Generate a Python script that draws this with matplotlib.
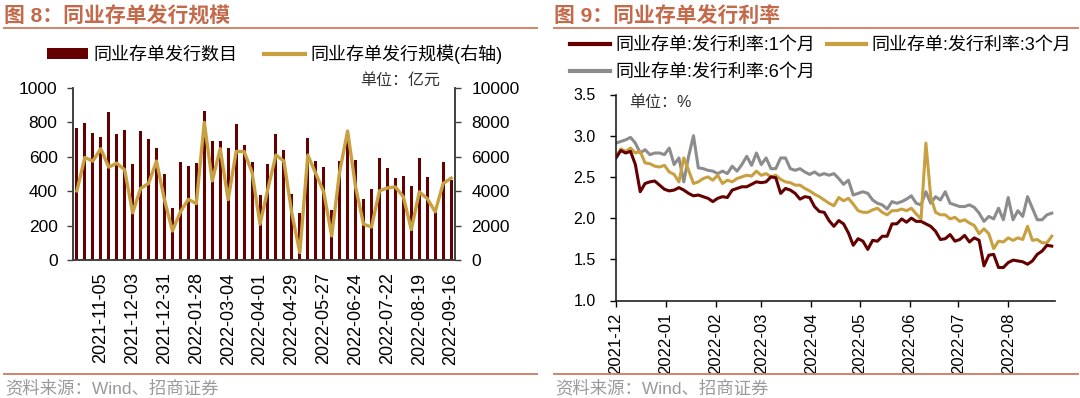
import matplotlib
matplotlib.use("Agg")
import matplotlib.pyplot as plt
import matplotlib.dates as mdates
import matplotlib.ticker as mticker
import pandas as pd
from matplotlib.patches import Patch
from matplotlib.lines import Line2D

plt.rcParams['font.family'] = ['Liberation Sans', 'Noto Sans CJK SC']
plt.rcParams['axes.unicode_minus'] = False

DARK_RED = '#650000'
GOLD = '#C9A040'
GREY = '#8C8C8C'
TITLE_C = '#C4694A'
RULE_C = '#D08468'

# 图8 周度数据 (春节周 2022-02-04 无数据)
week_dates = [d for d in pd.date_range('2021-10-15', '2022-09-16', freq='7D')
              if d != pd.Timestamp('2022-02-04')]
issue_count = [765, 794, 740, 713, 862, 734, 753, 559, 750, 701,
               654, 499, 305, 569, 546, 565, 866, 689, 689, 652,
               792, 668, 571, 377, 561, 732, 639, 381, 276, 709,
               577, 540, 293, 573, 746, 583, 355, 412, 594, 536,
               476, 491, 429, 592, 482, 285, 569, 468]
issue_amount = [4020, 5960, 5750, 6470, 5400, 5630, 5240, 2740, 4160, 4450,
                5750, 3500, 1690, 2800, 3530, 3280, 8000, 4600, 6470, 3510,
                6310, 6310, 5090, 2080, 4160, 6100, 5750, 2700, 430, 6100,
                5030, 3960, 1400, 5130, 7500, 4250, 2080, 1920, 4020, 4190,
                4250, 3670, 1770, 3960, 3570, 2800, 4450, 4760]

# 图9 发行利率 (每3天取一个读数)
rate_dates = pd.date_range('2021-12-01', periods=91, freq='3D')
rate_1m = [2.73, 2.82, 2.79, 2.81, 2.65, 2.32, 2.42, 2.44, 2.45, 2.40,
           2.35, 2.33, 2.34, 2.37, 2.34, 2.30, 2.27, 2.28, 2.26, 2.24,
           2.20, 2.24, 2.26, 2.25, 2.34, 2.36, 2.38, 2.38, 2.41, 2.44,
           2.43, 2.44, 2.50, 2.49, 2.30, 2.36, 2.34, 2.30, 2.23, 2.26,
           2.25, 2.14, 2.08, 2.07, 1.97, 1.90,
           1.97, 1.93, 1.82, 1.67, 1.75, 1.72, 1.62, 1.73, 1.72, 1.78,
           1.78, 1.93, 1.93, 1.99, 1.95, 2.00, 1.96, 1.96, 1.93, 1.90,
           1.84, 1.74, 1.75, 1.80, 1.72, 1.74, 1.79, 1.71, 1.76, 1.73,
           1.42, 1.55, 1.56, 1.40, 1.40, 1.46, 1.49, 1.48, 1.47, 1.44,
           1.48, 1.56, 1.60, 1.67, 1.66]
rate_3m = [2.75, 2.84, 2.81, 2.85, 2.79, 2.81, 2.67, 2.66, 2.63, 2.62,
           2.64, 2.56, 2.53, 2.44, 2.73, 2.58, 2.42, 2.44, 2.48, 2.50,
           2.46, 2.52, 2.42, 2.46, 2.44, 2.48, 2.50, 2.52, 2.51, 2.57,
           2.52, 2.54, 2.50, 2.52, 2.47, 2.44, 2.43, 2.40, 2.40, 2.36,
           2.33, 2.29, 2.26, 2.22, 2.18, 2.15,
           2.25, 2.21, 2.24, 2.17, 2.09, 2.07, 2.07, 2.10, 2.12, 2.07,
           2.04, 2.09, 2.09, 2.11, 2.09, 2.12, 2.05, 1.99, 2.91, 2.26,
           2.07, 2.04, 2.04, 1.99, 2.01, 1.96, 1.98, 1.94, 1.91, 1.81,
           1.87, 1.81, 1.63, 1.72, 1.71, 1.76, 1.73, 1.76, 1.74, 1.90,
           1.73, 1.74, 1.70, 1.70, 1.78]
rate_6m = [2.91, 2.93, 2.95, 2.98, 2.91, 2.79, 2.83, 2.77, 2.79, 2.79,
           2.77, 2.85, 2.65, 2.73, 2.44, 2.75, 3.00, 2.61, 2.60, 2.58,
           2.57, 2.54, 2.57, 2.54, 2.63, 2.57, 2.65, 2.75, 2.64, 2.79,
           2.65, 2.73, 2.60, 2.60, 2.73, 2.73, 2.60, 2.58, 2.60, 2.56,
           2.53, 2.56, 2.52, 2.54, 2.52, 2.54,
           2.48, 2.41, 2.46, 2.28, 2.30, 2.32, 2.30, 2.22, 2.18, 2.16,
           2.11, 2.20, 2.18, 2.20, 2.23, 2.27, 2.18, 2.16, 2.32, 2.18,
           2.26, 2.22, 2.32, 2.18, 2.16, 2.14, 2.14, 2.16, 2.13, 2.06,
           1.96, 2.02, 1.99, 2.12, 1.98, 2.25, 1.98, 2.09, 2.02, 2.26,
           2.12, 1.98, 1.98, 2.04, 2.06]

W, H = 1080, 398


def fx(px):
    return px / W


def fy(py):
    return 1 - py / H


fig = plt.figure(figsize=(W / 100, H / 100), dpi=100)

# ---------------- 标题 / 分割线 / 来源 ----------------
for x0, x1, title in [(4, 537, '图 8：同业存单发行规模'), (554, 1078, '图 9：同业存单发行利率')]:
    fig.text(fx(x0), fy(16), title, fontsize=15, fontweight='bold', color=TITLE_C, va='center')
    fig.add_artist(Line2D([fx(x0), fx(x1)], [fy(28)] * 2, color=RULE_C, lw=1.4))
    fig.add_artist(Line2D([fx(x0), fx(x1)], [fy(374)] * 2, color=RULE_C, lw=1.4))
    fig.text(fx(x0 + 1), fy(388), '资料来源：Wind、招商证券', fontsize=12.5, color='#9A9A9A', va='center')

# ---------------- 图8 ----------------
ax1 = fig.add_axes([fx(73.3), fy(260), fx(454.7 - 73.3), (260 - 88) / H])
x = list(range(len(issue_count)))
ax1.bar(x, issue_count, width=0.38, color=DARK_RED)
ax1.set_ylim(0, 1000)
ax1.set_yticks(range(0, 1001, 200))
ax1.set_xlim(-0.45, 47.45)
tick_idx = list(range(3, len(week_dates), 4))
ax1.set_xticks(tick_idx)
ax1.set_xticklabels([week_dates[i].strftime('%Y-%m-%d') for i in tick_idx], rotation=90)
ax1.tick_params(axis='x', length=0, pad=9, labelsize=13)
ax1.tick_params(axis='y', length=4.3, width=1, pad=7, labelsize=12.5, color='#404040')

ax1b = ax1.twinx()
ax1b.plot(x, issue_amount, color=GOLD, lw=2.4)
ax1b.set_ylim(0, 10000)
ax1b.set_yticks(range(0, 10001, 2000))
ax1b.tick_params(axis='y', length=4, width=1, pad=8, labelsize=12.5, color='#404040')

for a in (ax1, ax1b):
    a.spines['top'].set_visible(False)
    for s in ('left', 'right', 'bottom'):
        a.spines[s].set_color('#404040')
        a.spines[s].set_linewidth(1.2)

fig.text(fx(440), fy(80), '单位：亿元', fontsize=11.5, color='#333333', ha='right', va='center')

leg1 = [Patch(facecolor=DARK_RED, edgecolor='none', label='同业存单发行数目'),
        Line2D([], [], color=GOLD, lw=3, label='同业存单发行规模(右轴)')]
fig.legend(handles=leg1, loc='center left', bbox_to_anchor=(fx(47), fy(54)), ncol=2,
           frameon=False, fontsize=13, handlelength=2.27, handleheight=0.55,
           handletextpad=0.3, columnspacing=1.5, borderpad=0, borderaxespad=0)

# ---------------- 图9 ----------------
ax2 = fig.add_axes([fx(616), fy(300.5), fx(1055 - 616), (300.5 - 94.5) / H])
ax2.plot(rate_dates, rate_6m, color=GREY, lw=2.2, label='同业存单:发行利率:6个月')
ax2.plot(rate_dates, rate_3m, color=GOLD, lw=2.2, label='同业存单:发行利率:3个月')
ax2.plot(rate_dates, rate_1m, color=DARK_RED, lw=2.2, label='同业存单:发行利率:1个月')
ax2.set_ylim(1.0, 3.5)
ax2.set_yticks([1.0, 1.5, 2.0, 2.5, 3.0, 3.5])
ax2.yaxis.set_major_formatter(mticker.FormatStrFormatter('%.1f'))
ax2.set_xlim(pd.Timestamp('2021-12-01'), pd.Timestamp('2022-08-30'))
ax2.xaxis.set_major_locator(mdates.MonthLocator())
ax2.xaxis.set_major_formatter(mdates.DateFormatter('%Y-%m'))
plt.setp(ax2.get_xticklabels(), rotation=90)
ax2.tick_params(axis='x', length=4.5, width=1, pad=4, labelsize=12)
ax2.tick_params(axis='y', length=4.5, width=1, pad=10, labelsize=11.5)
ax2.spines['top'].set_visible(False)
ax2.spines['right'].set_visible(False)
for s in ('left', 'bottom'):
    ax2.spines[s].set_color('#202020')
    ax2.spines[s].set_linewidth(1.2)

fig.text(fx(629), fy(102), '单位：%', fontsize=11.5, color='#333333', va='center')

h = {l.get_label(): l for l in ax2.get_lines()}
order = ['同业存单:发行利率:1个月', '同业存单:发行利率:6个月', '同业存单:发行利率:3个月']
leg2 = [Line2D([], [], color=h[k].get_color(), lw=3, label=k) for k in order]
fig.legend(handles=leg2, loc='upper left', bbox_to_anchor=(fx(570), fy(37)), ncol=2,
           frameon=False, fontsize=13, handlelength=2.2, handletextpad=0.3,
           columnspacing=0.65, labelspacing=0.55, borderpad=0, borderaxespad=0)

fig.savefig('out.png', dpi=100)
